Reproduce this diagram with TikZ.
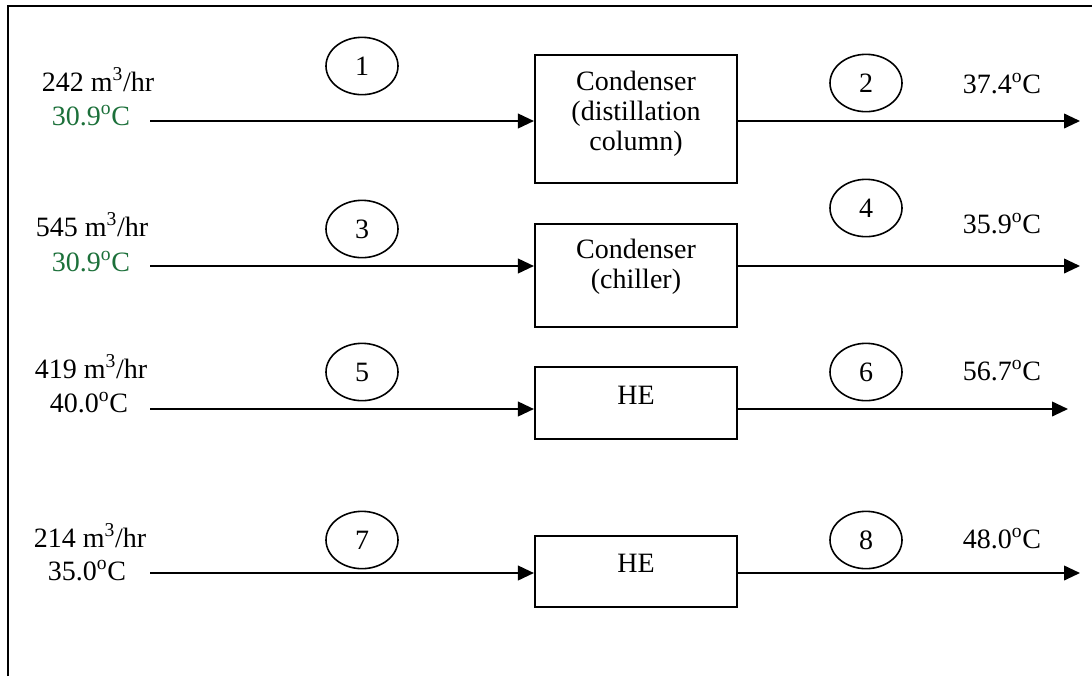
\documentclass[tikz,border=0pt]{standalone}
\usepackage{fontspec}
\setmainfont{Liberation Serif}
\usetikzlibrary{shapes.geometric,arrows.meta}
\definecolor{feedgreen}{RGB}{28,112,58}
\begin{document}
\begin{tikzpicture}[x=0.75pt,y=-0.75pt,
  txt/.style={font=\fontsize{21}{25}\selectfont, inner sep=0pt, anchor=base},
  unit/.style={draw, line width=1.6pt, minimum width=151.5pt, inner sep=0pt},
  tag/.style={draw, ellipse, line width=1.2pt, minimum width=54pt, minimum height=43pt,
              inner sep=0pt, font=\fontsize{21}{25}\selectfont},
  flow/.style={line width=1.4pt, -{Triangle[length=12pt,width=11pt]}},
  frame/.style={line width=1.8pt}]
\useasboundingbox (0,0) rectangle (1092,676);

% outer frame (top and left edges)
\draw[frame] (8,676) -- (8,6) -- (1092,6);

% process units
\node[unit, minimum height=96pt]    (cdc) at (636,119) {};
\node[unit, minimum height=77.25pt] (cch) at (636,275.5) {};
\node[unit, minimum height=54pt]    (he1) at (636,403) {};
\node[unit, minimum height=53.25pt] (he2) at (636,571.5) {};

\node[txt] (cdcA) at (636,90)  {Condenser};
\node[txt] (cdcB) at (636,120) {(distillation};
\node[txt] (cdcC) at (636,150) {column)};
\node[txt] (cchA) at (636,258) {Condenser};
\node[txt] (cchB) at (636,288) {(chiller)};
\node[txt] (he1t) at (636,404) {HE};
\node[txt] (he2t) at (636,572) {HE};

% stream inlets and outlets
\coordinate (in1)  at (150,121);
\coordinate (in2)  at (150,266);
\coordinate (in3)  at (150,409);
\coordinate (in4)  at (150,573);
\coordinate (out1) at (1080,121);
\coordinate (out2) at (1080,266);
\coordinate (out3) at (1068,409);
\coordinate (out4) at (1080,573);

\draw[flow] (in1) -- (in1 -| cdc.west);
\draw[flow] (in2) -- (in2 -| cch.west);
\draw[flow] (in3) -- (in3 -| he1.west);
\draw[flow] (in4) -- (in4 -| he2.west);
\draw[flow] (out1 -| cdc.east) -- (out1);
\draw[flow] (out2 -| cch.east) -- (out2);
\draw[flow] (out3 -| he1.east) -- (out3);
\draw[flow] (out4 -| he2.east) -- (out4);

% stream numbers
\node[tag] (s1) at (362,66)  {1};
\node[tag] (s2) at (866,83)  {2};
\node[tag] (s3) at (362,229) {3};
\node[tag] (s4) at (866,208) {4};
\node[tag] (s5) at (362,372) {5};
\node[tag] (s6) at (866,372) {6};
\node[tag] (s7) at (362,540) {7};
\node[tag] (s8) at (866,540) {8};

% feed conditions
\node[txt] (f1q) at (98,91)  {242 m\textsuperscript{3}/hr};
\node[txt, text=feedgreen] (f1t) at (91,125) {30.9\textsuperscript{o}C};
\node[txt] (f2q) at (92,236) {545 m\textsuperscript{3}/hr};
\node[txt, text=feedgreen] (f2t) at (91,271) {30.9\textsuperscript{o}C};
\node[txt] (f3q) at (91,378) {419 m\textsuperscript{3}/hr};
\node[txt] (f3t) at (89,412) {40.0\textsuperscript{o}C};
\node[txt] (f4q) at (90,547) {214 m\textsuperscript{3}/hr};
\node[txt] (f4t) at (87,580) {35.0\textsuperscript{o}C};

% outlet temperatures
\node[txt] (o1t) at (1002,93)  {37.4\textsuperscript{o}C};
\node[txt] (o2t) at (1002,233) {35.9\textsuperscript{o}C};
\node[txt] (o3t) at (1002,380) {56.7\textsuperscript{o}C};
\node[txt] (o4t) at (1002,548) {48.0\textsuperscript{o}C};
\end{tikzpicture}
\end{document}
